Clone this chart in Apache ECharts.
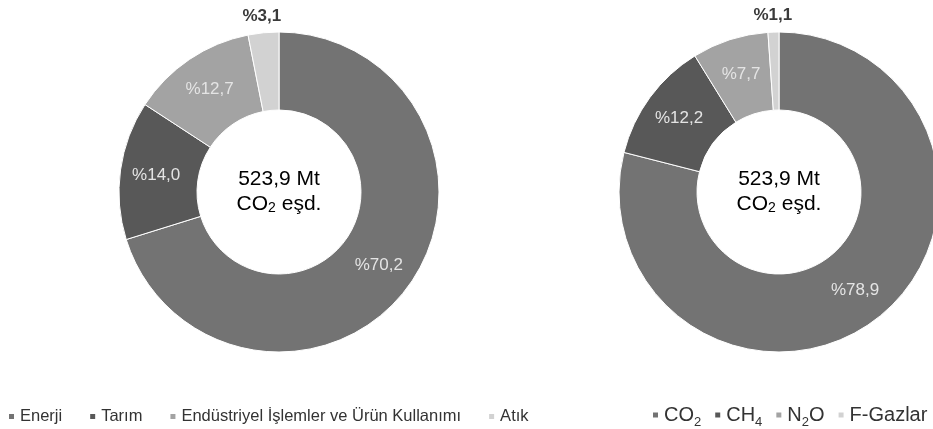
<!DOCTYPE html>
<html><head><meta charset="utf-8">
<script src="https://cdn.jsdelivr.net/npm/echarts@6/dist/echarts.min.js"></script>
<style>html,body{margin:0;padding:0;background:#fff}#c{width:933px;height:429px}</style>
</head><body><div id="c"></div>
<script>
// ---- data ----
const sectorNames = ['Enerji', 'Tarım', 'Endüstriyel İşlemler ve Ürün Kullanımı', 'Atık'];
const sectorValues = [70.2, 14.0, 12.7, 3.1];
const gasNames = ['CO2', 'CH4', 'N2O', 'F-Gazlar'];
const gasLegendLabels = ['{t|CO}{s|2}', '{t|CH}{s|4}', '{t|N}{s|2}{t|O}', '{t|F-Gazlar}'];
const gasValues = [78.9, 12.2, 7.7, 1.1];
const centerLine1 = '523,9 Mt';
const centerLine2 = '{a|CO}{s|2}{a| eşd.}';

// ---- style ----
const colors = ['#737373', '#585858', '#a3a3a3', '#d2d2d2'];
const narrow = '"Liberation Sans Narrow", "Arial Narrow", "Liberation Sans", Arial, sans-serif';
const sans = '"Liberation Sans", Arial, sans-serif';
const centers = [[279, 192], [779, 192]];
const radius = [82, 160];

function pct(v) { return '%' + v.toFixed(1).replace('.', ','); }

function buildData(names, values) {
  return names.map((n, i) => {
    const d = { name: n, value: values[i], itemStyle: { color: colors[i] } };
    if (i === names.length - 1) {
      d.label = { position: 'outside', color: '#3a3a3a', fontWeight: 'bold', fontSize: 17 };
      d.labelLine = { show: false, length: 17, length2: 0 };
    }
    return d;
  });
}

function pieSeries(idx, names, values) {
  return {
    type: 'pie',
    center: centers[idx],
    radius: radius,
    startAngle: 90,
    clockwise: true,
    avoidLabelOverlap: false,
    silent: true,
    itemStyle: { borderColor: '#ffffff', borderWidth: 1 },
    label: {
      show: true,
      position: 'inside',
      formatter: p => pct(p.value),
      color: '#e4e4e4',
      fontFamily: narrow,
      fontSize: 17,
      distanceToLabelLine: 0
    },
    labelLayout: p => (p.dataIndex === names.length - 1 ? { align: 'center' } : {}),
    emphasis: { disabled: true },
    data: buildData(names, values)
  };
}

const chart = echarts.init(document.getElementById('c'), null, { renderer: 'canvas' });
const gasLabelMap = {};
gasNames.forEach((n, i) => { gasLabelMap[n] = gasLegendLabels[i]; });

chart.setOption({
  animation: false,
  backgroundColor: '#ffffff',
  legend: [
    {
      data: sectorNames,
      left: 2, top: 403,
      icon: 'rect', itemWidth: 7, itemHeight: 7, itemGap: 26,
      selectedMode: false,
      textStyle: { fontFamily: sans, fontSize: 16.5, color: '#333333' }
    },
    {
      data: gasNames,
      left: 646, top: 400,
      width: 287,
      icon: 'rect', itemWidth: 7, itemHeight: 7, itemGap: 12,
      selectedMode: false,
      formatter: n => gasLabelMap[n],
      textStyle: {
        fontFamily: sans, fontSize: 20, color: '#333333',
        rich: {
          t: { fontFamily: sans, fontSize: 20, color: '#333333', lineHeight: 22 },
          s: { fontFamily: sans, fontSize: 13, color: '#333333', padding: [14, 0, 0, 0] }
        }
      }
    }
  ],
  graphic: centers.map(c => ({
    type: 'text',
    x: c[0], y: c[1],
    silent: true,
    style: {
      text: '{a|' + centerLine1 + '}\n' + centerLine2,
      align: 'center', verticalAlign: 'middle',
      rich: {
        a: { fontFamily: narrow, fontSize: 21, color: '#333333', lineHeight: 25 },
        s: { fontFamily: narrow, fontSize: 14, color: '#333333', padding: [8, 0, 0, 0], lineHeight: 14 }
      }
    }
  })),
  series: [
    pieSeries(0, sectorNames, sectorValues),
    pieSeries(1, gasNames, gasValues)
  ]
});
</script></body></html>
